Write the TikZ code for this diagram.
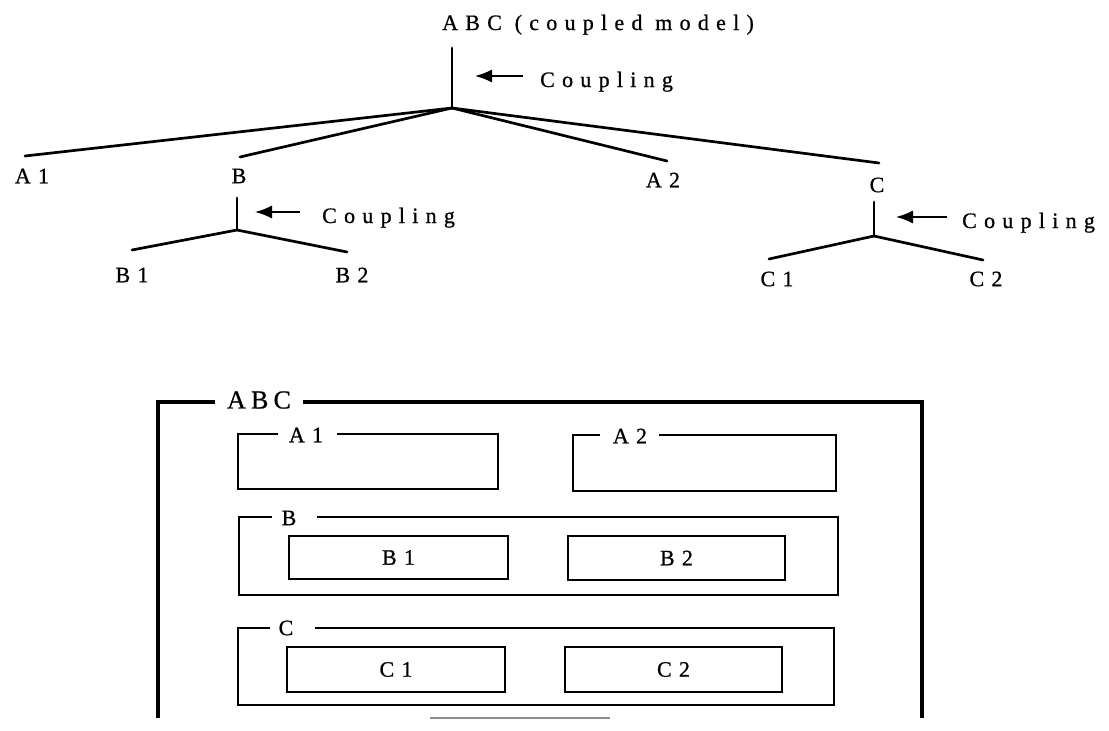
\documentclass[tikz,border=0pt]{standalone}
\usepackage{fontspec}
\setmainfont{Liberation Serif}
\newfontfamily\spaced[LetterSpace=33,FakeBold=0.8]{Liberation Serif}
\newfontfamily\spacedB[LetterSpace=20,FakeBold=0.8]{Liberation Serif}
\usetikzlibrary{arrows.meta}
\begin{document}
\begin{tikzpicture}[x=1pt,y=-1pt,
  lbl/.style={font=\fontsize{22}{26}\spaced, inner sep=0pt},
  biglbl/.style={font=\fontsize{26}{30}\spacedB, inner sep=0pt},
  tree/.style={line width=2.7pt, line cap=round},
  arr/.style={line width=1.5pt, -{Latex[length=17pt,width=13pt]}},
  outer/.style={line width=4.8pt, line cap=square},
  frame/.style={line width=2.8pt, line cap=square},
  inbox/.style={draw, line width=2.8pt, font=\fontsize{22}{26}\spaced, inner sep=0pt}
]
\useasboundingbox (0,0) rectangle (1109,731);

% ---------- top tree ----------
\node[lbl, anchor=base west] (abc) at (442,30) {ABC (coupled model)};
\coordinate (abcTop) at (452,48);
\coordinate (abcJ) at (452,108);
\draw[tree] (abcTop) -- (abcJ);
\node[lbl, anchor=base west] (cpl1) at (540,87) {Coupling};
\coordinate (cpl1tail) at (523,76);
\coordinate (cpl1tip) at (475,76);
\draw[arr] (cpl1tail) -- (cpl1tip);

\coordinate (eA1) at (25,156);
\coordinate (eB) at (240,157);
\coordinate (eA2) at (667,161);
\coordinate (eC) at (879,163);
\draw[tree] (abcJ) -- (eA1);
\draw[tree] (abcJ) -- (eB);
\draw[tree] (abcJ) -- (eA2);
\draw[tree] (abcJ) -- (eC);

\node[lbl] (tA1) at (32,176) {A1};
\node[lbl] (tB) at (239,176) {B};
\node[lbl] (tA2) at (663,180) {A2};
\node[lbl] (tC) at (877,185) {C};

% B subtree
\coordinate (bTop) at (237,198);
\coordinate (bJ) at (237,230);
\draw[tree] (bTop) -- (bJ);
\coordinate (eB1) at (132,250);
\coordinate (eB2) at (347,252);
\draw[tree] (bJ) -- (eB1);
\draw[tree] (bJ) -- (eB2);
\node[lbl] (tB1) at (132,275) {B1};
\node[lbl] (tB2) at (352,275) {B2};
\coordinate (cpl2tail) at (300,212);
\coordinate (cpl2tip) at (255,212);
\draw[arr] (cpl2tail) -- (cpl2tip);
\node[lbl, anchor=base west] (cpl2) at (322,223) {Coupling};

% C subtree
\coordinate (cTop) at (874,202);
\coordinate (cJ) at (874,236);
\draw[tree] (cTop) -- (cJ);
\coordinate (eC1) at (769,259);
\coordinate (eC2) at (983,260);
\draw[tree] (cJ) -- (eC1);
\draw[tree] (cJ) -- (eC2);
\node[lbl] (tC1) at (777,279) {C1};
\node[lbl] (tC2) at (986,279) {C2};
\coordinate (cpl3tail) at (947,217);
\coordinate (cpl3tip) at (896,217);
\draw[arr] (cpl3tail) -- (cpl3tip);
\node[lbl, anchor=base west] (cpl3) at (962,228) {Coupling};

% ---------- bottom nested boxes ----------
\draw[outer] (215,402) -- (158,402) -- (158,718);
\draw[outer] (303,402) -- (922,402) -- (922,718);
\draw[line width=2.4pt, black!45] (430,718) -- (610,718);
\node[biglbl] (fABC) at (259,400) {ABC};

% A1
\draw[frame] (278,434) -- (238,434) -- (238,489) -- (498,489) -- (498,434) -- (337,434);
\node[lbl] (fA1) at (306,435) {A1};
% A2
\draw[frame] (600,435) -- (573,435) -- (573,491) -- (836,491) -- (836,435) -- (659,435);
\node[lbl] (fA2) at (630,436) {A2};
% B
\draw[frame] (272,517) -- (239,517) -- (239,595) -- (838,595) -- (838,517) -- (317,517);
\node[lbl] (fB) at (289,518) {B};
\node[inbox, minimum width=219pt, minimum height=43pt] (fB1) at (398.5,557.5) {B1};
\node[inbox, minimum width=217pt, minimum height=44pt] (fB2) at (676.5,558) {B2};
% C
\draw[frame] (270,628) -- (238,628) -- (238,705) -- (834,705) -- (834,628) -- (315,628);
\node[lbl] (fC) at (286,628) {C};
\node[inbox, minimum width=218pt, minimum height=45pt] (fC1) at (396,669.5) {C1};
\node[inbox, minimum width=217pt, minimum height=45pt] (fC2) at (673.5,669.5) {C2};
\end{tikzpicture}
\end{document}
